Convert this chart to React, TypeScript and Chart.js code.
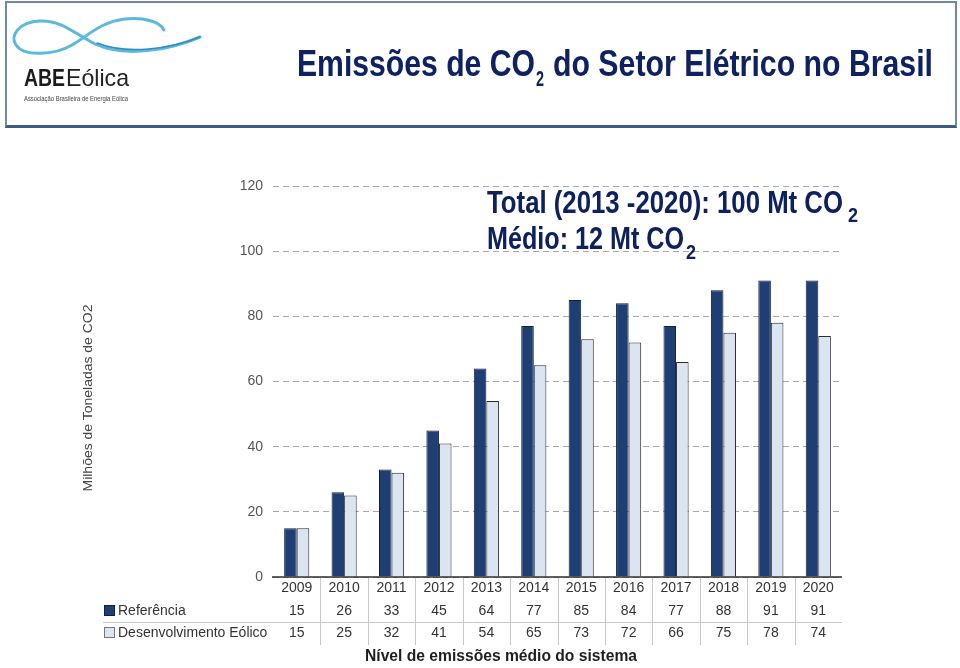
import React, { useEffect, useRef } from "react";
import { Chart, registerables } from "chart.js";

Chart.register(...registerables);

const years = ["2009", "2010", "2011", "2012", "2013", "2014", "2015", "2016", "2017", "2018", "2019", "2020"];
const referencia = [15, 26, 33, 45, 64, 77, 85, 84, 77, 88, 91, 91];
const desenvolvimento = [15, 25, 32, 41, 54, 65, 73, 72, 66, 75, 78, 74];
const seriesNames = ["Referência", "Desenvolvimento Eólico"];
const yMin = 0;
const yMax = 120;
const yStep = 20;

const REF_FILL = "#1f3f74";
const REF_BORDER = "#0f1f40";
const DES_FILL = "#dbe4f1";
const DES_BORDER = "#2b2b2b";
const FONT = '"Liberation Sans", Arial, sans-serif';
const NARROW = '"Liberation Sans Narrow", "Liberation Sans", Arial, sans-serif';

const tablePlugin = {
  id: "dataTable",
  afterDraw(chart: any) {
    const ctx = chart.ctx;
    const xs = chart.scales.x;
    const area = chart.chartArea;
    const n = years.length;
    const centers = years.map((_, i) => xs.getPixelForValue(i));
    const bottom = area.bottom;
    ctx.save();
    ctx.strokeStyle = "#c8c8c8";
    ctx.lineWidth = 1;
    for (let i = 1; i < n; i++) {
      const bx = Math.round((centers[i - 1] + centers[i]) / 2) + 0.5;
      ctx.beginPath();
      ctx.moveTo(bx, bottom);
      ctx.lineTo(bx, bottom + 68);
      ctx.stroke();
    }
    ctx.beginPath();
    ctx.moveTo(103, bottom + 45.5);
    ctx.lineTo(area.right, bottom + 45.5);
    ctx.stroke();
    ctx.strokeStyle = "#2e2e2e";
    ctx.lineWidth = 1.5;
    ctx.beginPath();
    ctx.moveTo(area.left - 1, bottom);
    ctx.lineTo(area.right, bottom);
    ctx.stroke();

    ctx.font = "14px " + FONT;
    ctx.fillStyle = "#333";
    ctx.textAlign = "center";
    ctx.textBaseline = "middle";
    years.forEach((y, i) => ctx.fillText(y, centers[i], bottom + 11.5));
    referencia.forEach((v, i) => ctx.fillText(String(v), centers[i], bottom + 34));
    desenvolvimento.forEach((v, i) => ctx.fillText(String(v), centers[i], bottom + 56));

    ctx.textAlign = "left";
    ctx.lineWidth = 1;
    ctx.fillStyle = REF_FILL;
    ctx.fillRect(104.5, bottom + 28.5, 10, 10);
    ctx.strokeStyle = REF_BORDER;
    ctx.strokeRect(104.5, bottom + 28.5, 10, 10);
    ctx.fillStyle = DES_FILL;
    ctx.fillRect(104.5, bottom + 50.5, 10, 10);
    ctx.strokeStyle = "#777";
    ctx.strokeRect(104.5, bottom + 50.5, 10, 10);
    ctx.fillStyle = "#333";
    ctx.fillText(seriesNames[0], 118, bottom + 34);
    ctx.fillText(seriesNames[1], 118, bottom + 56);
    ctx.restore();
  },
};

function Logo() {
  return (
    <g>
      <path
        d="M 200 37 C 170 50, 125 58, 95 44 C 75 34, 62 20, 40 21 C 18 22, 10 36, 16 45 C 24 57, 55 55, 72 45 C 88 36, 100 22, 125 19 C 145 17, 160 22, 164 30"
        fill="none"
        stroke="#5cb8dc"
        strokeWidth={3}
        strokeLinecap="round"
      />
      <path
        d="M 200 37 C 170 49, 127 55, 97 43"
        fill="none"
        stroke="#2f8fbf"
        strokeWidth={1.5}
        strokeLinecap="round"
      />
      <text x={24} y={86} fontFamily={FONT} fontWeight="bold" fontSize={24} fill="#1b1b1b" textLength={41} lengthAdjust="spacingAndGlyphs">ABE</text>
      <text x={66} y={86} fontFamily={NARROW} fontSize={24} fill="#222" textLength={63} lengthAdjust="spacingAndGlyphs">Eólica</text>
      <text x={24} y={101} fontFamily={FONT} fontSize={7} fill="#444" textLength={104} lengthAdjust="spacingAndGlyphs">Associação Brasileira de Energia Eólica</text>
    </g>
  );
}

export default function App() {
  const canvasRef = useRef<HTMLCanvasElement | null>(null);

  useEffect(() => {
    if (!canvasRef.current) return;
    const chart = new Chart(canvasRef.current, {
      type: "bar",
      data: {
        labels: years,
        datasets: [
          {
            label: seriesNames[0],
            data: referencia,
            backgroundColor: REF_FILL,
            borderColor: REF_BORDER,
            borderWidth: 1,
            categoryPercentage: 0.53,
            barPercentage: 1.0,
          },
          {
            label: seriesNames[1],
            data: desenvolvimento,
            backgroundColor: DES_FILL,
            borderColor: DES_BORDER,
            borderWidth: 1,
            categoryPercentage: 0.53,
            barPercentage: 1.0,
          },
        ],
      },
      options: {
        animation: false,
        responsive: false,
        maintainAspectRatio: false,
        layout: { padding: { top: 186, bottom: 91, right: 118, left: 0 } },
        plugins: { legend: { display: false }, tooltip: { enabled: false }, title: { display: false } },
        scales: {
          x: { display: false },
          y: {
            min: yMin,
            max: yMax,
            afterFit: (s: any) => {
              s.width = 273;
            },
            ticks: {
              stepSize: yStep,
              padding: 10,
              color: "#555",
              font: { family: FONT, size: 14 },
            },
            grid: { color: "#a8a8a8", drawTicks: false, lineWidth: 1 },
            border: { display: false, dash: [6, 4] },
          },
        },
      },
      plugins: [tablePlugin],
    });
    return () => chart.destroy();
  }, []);

  return (
    <div style={{ position: "absolute", left: 0, top: 0, width: 960, height: 668, background: "#fff", overflow: "hidden" }}>
      <canvas ref={canvasRef} width={960} height={668} style={{ position: "absolute", left: 0, top: 0, width: 960, height: 668 }} />
      <div
        style={{
          position: "absolute",
          left: 5,
          top: 1,
          width: 952,
          height: 127,
          boxSizing: "border-box",
          border: "2px solid #7088aa",
          borderBottom: "3px solid #3d5a86",
        }}
      />
      <svg width={960} height={668} style={{ position: "absolute", left: 0, top: 0, pointerEvents: "none" }}>
        <Logo />
        <g fontFamily={NARROW} fontWeight="bold" fill="#0e2263">
          <text x={297} y={76} fontSize={36} textLength={238} lengthAdjust="spacingAndGlyphs">Emissões de CO</text>
          <text x={536} y={86} fontSize={22} textLength={8} lengthAdjust="spacingAndGlyphs">2</text>
          <text x={553} y={76} fontSize={36} textLength={380} lengthAdjust="spacingAndGlyphs">do Setor Elétrico no Brasil</text>
        </g>
        <g fontFamily={NARROW} fontWeight="bold" fill="#0d2060">
          <text x={487} y={213} fontSize={31} textLength={356} lengthAdjust="spacingAndGlyphs">Total (2013 -2020): 100 Mt CO</text>
          <text x={848} y={222} fontSize={20} textLength={10} lengthAdjust="spacingAndGlyphs">2</text>
          <text x={487} y={249} fontSize={31} textLength={197} lengthAdjust="spacingAndGlyphs">Médio: 12 Mt CO</text>
          <text x={686} y={259} fontSize={20} textLength={10} lengthAdjust="spacingAndGlyphs">2</text>
        </g>
        <text
          transform="translate(92,398) rotate(-90)"
          textAnchor="middle"
          fontFamily={FONT}
          fontSize={13}
          fill="#444"
          textLength={187}
          lengthAdjust="spacingAndGlyphs"
        >
          Milhões de Toneladas de CO2
        </text>
        <text x={365} y={661} fontFamily={NARROW} fontWeight="bold" fontSize={17} fill="#1e1e1e" textLength={272} lengthAdjust="spacingAndGlyphs">
          Nível de emissões médio do sistema
        </text>
      </svg>
    </div>
  );
}
